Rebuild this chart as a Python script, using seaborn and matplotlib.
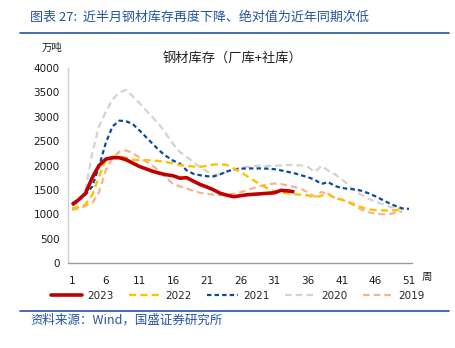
import matplotlib
matplotlib.use("Agg")
import matplotlib.pyplot as plt
import seaborn as sns
import pandas as pd
from matplotlib.lines import Line2D

sns.set_theme(style="white")
plt.rcParams['font.family'] = ['DejaVu Sans', 'Noto Sans CJK SC']

years = ["2023", "2022", "2021", "2020", "2019"]

s2023 = [1190, 1300, 1430, 1750, 2000, 2130, 2160, 2160, 2120, 2050, 1980, 1930, 1880, 1840,
         1810, 1790, 1740, 1750, 1680, 1610, 1560, 1500, 1430, 1390, 1360, 1380, 1400, 1410,
         1420, 1430, 1440, 1490, 1480, 1460]
s2022 = [1120, 1150, 1200, 1400, 1770, 2110, 2180, 2190, 2160, 2120, 2110, 2110, 2100, 2090,
         2070, 2045, 2010, 1990, 1980, 1975, 1990, 2020, 2025, 2010, 1940, 1870, 1780, 1690,
         1610, 1530, 1470, 1450, 1430, 1410, 1400, 1390, 1350, 1380, 1420, 1330, 1300, 1250,
         1200, 1140, 1100, 1085, 1080, 1075, 1080, 1090]
s2021 = [1225, 1300, 1400, 1570, 1980, 2460, 2800, 2920, 2910, 2850, 2720, 2580, 2440, 2300,
         2190, 2100, 2040, 1900, 1830, 1800, 1780, 1775, 1820, 1880, 1920, 1935, 1940, 1940,
         1940, 1935, 1925, 1900, 1870, 1840, 1800, 1760, 1710, 1620, 1660, 1580, 1540, 1520,
         1510, 1480, 1430, 1370, 1300, 1230, 1170, 1120, 1110]
s2020 = [1190, 1230, 1500, 2250, 2800, 3100, 3350, 3500, 3550, 3420, 3280, 3130, 2980, 2830,
         2640, 2440, 2280, 2180, 2070, 1970, 1880, 1800, 1820, 1870, 1920, 1950, 1970, 1990,
         1995, 1990, 1990, 2000, 2010, 2010, 2000, 1970, 1870, 1990, 1900, 1820, 1720, 1600,
         1480, 1390, 1320, 1260, 1210, 1160, 1120, 1110]
s2019 = [1087, 1120, 1170, 1230, 1450, 1900, 2150, 2280, 2310, 2260, 2160, 2080, 1990, 1880,
         1740, 1620, 1570, 1530, 1480, 1440, 1420, 1400, 1395, 1400, 1420, 1450, 1500, 1540,
         1580, 1610, 1630, 1620, 1590, 1560, 1520, 1450, 1360, 1460, 1400, 1340, 1300, 1240,
         1170, 1090, 1040, 1010, 1000, 1000, 1030, 1060]

xticks = [1, 6, 11, 16, 21, 26, 31, 36, 41, 46, 51]
yticks = [0, 500, 1000, 1500, 2000, 2500, 3000, 3500, 4000]

series = {"2023": s2023, "2022": s2022, "2021": s2021, "2020": s2020, "2019": s2019}
frames = []
for y, vals in series.items():
    frames.append(pd.DataFrame({"week": range(1, len(vals) + 1), "value": vals, "year": y}))
df = pd.concat(frames, ignore_index=True)

colors = {"2023": "#C00000", "2022": "#FFC000", "2021": "#0B4A9E", "2020": "#D3D3D3", "2019": "#F6B48C"}
widths = {"2023": 2.6, "2022": 1.7, "2021": 1.6, "2020": 1.6, "2019": 1.6}
dashes = {"2023": None, "2022": (3, 1.8), "2021": (2, 1.4), "2020": (3, 1.8), "2019": (3, 1.8)}
zorder = {"2023": 6, "2022": 5, "2021": 4, "2020": 2, "2019": 3}

fig = plt.figure(figsize=(4.55, 3.48), dpi=100)
ax = fig.add_axes([68 / 455, 1 - 263 / 348, (412 - 68) / 455, 195 / 348])

for y in ["2020", "2019", "2021", "2022", "2023"]:
    sub = df[df["year"] == y]
    sns.lineplot(data=sub, x="week", y="value", ax=ax, color=colors[y], linewidth=widths[y],
                 legend=False, zorder=zorder[y])
    line = ax.lines[-1]
    if dashes[y] is not None:
        line.set_dashes(dashes[y])
    line.set_solid_capstyle("butt")

ax.set_xlim(0.4, 51.45)
ax.set_ylim(0, 4000)
ax.set_xticks(xticks)
ax.set_yticks(yticks)
ax.set_xlabel("")
ax.set_ylabel("")
ax.tick_params(axis="both", labelsize=7.5, colors="#222222", length=0, pad=6)
ax.tick_params(axis="x", pad=9)
for lab in ax.get_xticklabels() + ax.get_yticklabels():
    lab.set_color("#1a1a1a")
for s in ["top", "right"]:
    ax.spines[s].set_visible(False)
ax.spines["left"].set_color("#CFCFCF")
ax.spines["left"].set_linewidth(1.0)
ax.spines["bottom"].set_color("#9A9A9A")
ax.spines["bottom"].set_linewidth(1.0)
ax.grid(False)

cjk = ['Noto Sans CJK SC', 'DejaVu Sans']
fig.text(30 / 455, 1 - 17 / 348, "图表 27:  近半月钢材库存再度下降、绝对值为近年同期次低",
         family=cjk, fontsize=9.4, color="#2453A5", style="italic", va="center", ha="left")
fig.add_artist(Line2D([20 / 455, 449 / 455], [1 - 33 / 348, 1 - 33 / 348], color="#2453A5", lw=1.2))
fig.add_artist(Line2D([20 / 455, 449 / 455], [1 - 311 / 348, 1 - 311 / 348], color="#2453A5", lw=1.2))
fig.text(30 / 455, 1 - 320 / 348, "资料来源：Wind，国盛证券研究所", family=cjk, fontsize=9,
         color="#2453A5", style="italic", va="center", ha="left")
fig.text(52 / 455, 1 - 48 / 348, "万吨", family=cjk, fontsize=7.5, color="#222222", va="center", ha="center")
fig.text(232 / 455, 1 - 58 / 348, "钢材库存（厂库+社库）", family=cjk, fontsize=9.5, color="#222222",
         va="center", ha="center")
fig.text(427 / 455, 1 - 277 / 348, "周", family=cjk, fontsize=7.5, color="#222222", va="center", ha="center")

handles = []
for y in years:
    h = Line2D([0], [0], color=colors[y], lw=widths[y])
    if dashes[y] is not None:
        h.set_dashes(dashes[y])
    handles.append(h)
fig.legend(handles, years, loc="center", bbox_to_anchor=(238 / 455, 1 - 296 / 348), ncol=5,
           frameon=False, fontsize=7.5, handlelength=3.0, columnspacing=1.5, handletextpad=0.45)

fig.savefig("out.png", dpi=100)
